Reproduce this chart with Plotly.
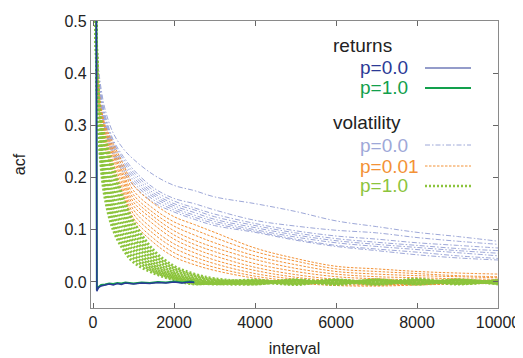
import plotly.graph_objects as go

# ---------------- data ----------------
lags = [50, 100, 150, 200, 300, 500, 750, 1000, 1500, 2000, 2500, 3000,
        4000, 5000, 6000, 7000, 8000, 9000, 10000]

vol_p00 = [
    [0.60, 0.46, 0.40, 0.37, 0.33, 0.285, 0.255, 0.235, 0.205, 0.185, 0.175, 0.163, 0.150, 0.135, 0.117, 0.106, 0.095, 0.087, 0.078],
    [0.60, 0.45, 0.39, 0.36, 0.32, 0.272, 0.240, 0.215, 0.180, 0.160, 0.150, 0.138, 0.118, 0.107, 0.099, 0.094, 0.085, 0.078, 0.072],
    [0.60, 0.44, 0.385, 0.355, 0.315, 0.268, 0.235, 0.210, 0.175, 0.155, 0.142, 0.130, 0.112, 0.098, 0.088, 0.082, 0.075, 0.070, 0.065],
    [0.60, 0.44, 0.38, 0.35, 0.31, 0.262, 0.230, 0.205, 0.170, 0.150, 0.138, 0.125, 0.108, 0.094, 0.083, 0.076, 0.070, 0.064, 0.060],
    [0.60, 0.43, 0.375, 0.345, 0.305, 0.258, 0.225, 0.200, 0.166, 0.146, 0.133, 0.120, 0.104, 0.090, 0.079, 0.072, 0.066, 0.060, 0.055],
    [0.60, 0.43, 0.37, 0.34, 0.30, 0.252, 0.220, 0.195, 0.162, 0.142, 0.128, 0.116, 0.100, 0.086, 0.075, 0.068, 0.062, 0.056, 0.050],
    [0.60, 0.42, 0.365, 0.335, 0.295, 0.248, 0.215, 0.190, 0.157, 0.138, 0.124, 0.112, 0.097, 0.082, 0.070, 0.063, 0.057, 0.050, 0.045],
    [0.60, 0.42, 0.36, 0.33, 0.29, 0.242, 0.210, 0.185, 0.152, 0.134, 0.120, 0.108, 0.095, 0.080, 0.068, 0.060, 0.052, 0.046, 0.042],
]

vol_p001 = [
    [0.60, 0.45, 0.37, 0.335, 0.30, 0.265, 0.225, 0.185, 0.150, 0.125, 0.110, 0.095, 0.065, 0.045, 0.030, 0.025, 0.020, 0.017, 0.015],
    [0.60, 0.44, 0.36, 0.33, 0.295, 0.258, 0.217, 0.175, 0.140, 0.115, 0.100, 0.085, 0.058, 0.040, 0.025, 0.020, 0.016, 0.012, 0.010],
    [0.60, 0.43, 0.355, 0.325, 0.29, 0.252, 0.208, 0.167, 0.132, 0.107, 0.090, 0.075, 0.050, 0.033, 0.020, 0.015, 0.012, 0.010, 0.008],
    [0.60, 0.43, 0.35, 0.32, 0.285, 0.246, 0.202, 0.160, 0.125, 0.098, 0.080, 0.066, 0.043, 0.026, 0.015, 0.010, 0.008, 0.006, 0.005],
    [0.60, 0.42, 0.345, 0.315, 0.28, 0.240, 0.196, 0.153, 0.118, 0.090, 0.072, 0.058, 0.035, 0.020, 0.010, 0.006, 0.004, 0.003, 0.003],
    [0.60, 0.42, 0.34, 0.31, 0.275, 0.234, 0.190, 0.146, 0.110, 0.082, 0.064, 0.050, 0.028, 0.014, 0.005, 0.002, 0.000, 0.001, 0.002],
    [0.60, 0.41, 0.335, 0.305, 0.27, 0.227, 0.183, 0.138, 0.100, 0.073, 0.056, 0.042, 0.022, 0.009, 0.002, -0.002, -0.003, -0.001, 0.000],
    [0.60, 0.41, 0.33, 0.30, 0.265, 0.220, 0.176, 0.130, 0.092, 0.065, 0.048, 0.035, 0.016, 0.005, -0.002, -0.005, -0.004, -0.002, -0.001],
    [0.60, 0.40, 0.325, 0.295, 0.26, 0.213, 0.170, 0.122, 0.083, 0.056, 0.040, 0.028, 0.011, 0.001, -0.005, -0.006, -0.005, -0.003, -0.002],
    [0.60, 0.40, 0.32, 0.29, 0.255, 0.207, 0.163, 0.115, 0.075, 0.048, 0.033, 0.022, 0.007, -0.002, -0.007, -0.008, -0.006, -0.004, -0.003],
]

vol_p10 = [
    [0.60, 0.42, 0.34, 0.31, 0.275, 0.22, 0.16, 0.115, 0.060, 0.030, 0.015, 0.006, 0.000, -0.004, 0.003, -0.002, 0.004, -0.002, 0.001],
    [0.60, 0.415, 0.335, 0.30, 0.265, 0.205, 0.148, 0.105, 0.053, 0.026, 0.012, 0.004, -0.002, 0.002, -0.004, 0.003, -0.002, 0.003, -0.002],
    [0.60, 0.41, 0.33, 0.29, 0.255, 0.19, 0.137, 0.095, 0.047, 0.022, 0.009, 0.002, 0.003, -0.003, 0.002, -0.004, 0.002, -0.003, 0.002],
    [0.60, 0.405, 0.32, 0.28, 0.24, 0.175, 0.125, 0.086, 0.041, 0.018, 0.006, 0.000, -0.003, 0.003, -0.002, 0.002, -0.004, 0.002, -0.002],
    [0.60, 0.40, 0.315, 0.27, 0.228, 0.16, 0.113, 0.077, 0.036, 0.015, 0.004, -0.002, 0.002, -0.002, 0.004, -0.003, 0.003, -0.002, 0.003],
    [0.60, 0.395, 0.31, 0.26, 0.215, 0.147, 0.102, 0.068, 0.031, 0.012, 0.002, -0.003, -0.004, 0.002, -0.003, 0.004, -0.002, 0.004, -0.003],
    [0.60, 0.39, 0.30, 0.25, 0.20, 0.134, 0.090, 0.060, 0.027, 0.010, 0.000, -0.004, 0.002, -0.005, 0.003, -0.002, 0.005, -0.003, 0.002],
    [0.60, 0.385, 0.295, 0.24, 0.188, 0.122, 0.080, 0.052, 0.023, 0.008, -0.002, -0.003, -0.002, 0.003, -0.005, 0.003, -0.003, 0.002, -0.004],
    [0.60, 0.38, 0.29, 0.23, 0.175, 0.11, 0.070, 0.045, 0.020, 0.006, -0.003, -0.002, 0.003, -0.003, 0.002, -0.005, 0.002, -0.004, 0.003],
    [0.60, 0.375, 0.28, 0.22, 0.16, 0.10, 0.062, 0.038, 0.017, 0.004, -0.004, 0.000, -0.004, 0.004, -0.002, 0.003, -0.004, 0.003, -0.003],
]

ret_lags = [80, 95, 120, 150, 200, 300, 400, 500, 600, 700, 800, 1000, 1200,
            1400, 1600, 1800, 2000, 2200, 2400, 2500]
ret_p00 = [0.60, -0.018, -0.013, -0.010, -0.008, -0.006, -0.004, -0.006, -0.003, -0.005,
           -0.002, -0.004, -0.002, -0.003, -0.001, -0.002, 0.000, -0.002, 0.000, -0.001]
ret_p10 = [0.60, -0.016, -0.011, -0.009, -0.006, -0.005, -0.003, -0.004, -0.002, -0.003,
           -0.001, -0.003, -0.001, -0.002, 0.000, -0.001, 0.001, -0.001, 0.001, 0.000]

x_ticks = [0, 2000, 4000, 6000, 8000, 10000]
y_ticks = [0.0, 0.1, 0.2, 0.3, 0.4, 0.5]

# ---------------- styles ----------------
C_BLUE = "#2b3a96"
C_GREEN = "#12a04c"
C_LAV = "#9ea8d8"
C_ORANGE = "#f39236"
C_LGREEN = "#8cc43c"
FONT = "Liberation Sans, Arial, Helvetica, sans-serif"

fig = go.Figure()

for ys in vol_p00:
    fig.add_trace(go.Scatter(x=lags, y=ys, mode="lines", line_shape="spline",
                             line=dict(color=C_LAV, width=1, dash="5px,2px,1.5px,2px"),
                             showlegend=False, hoverinfo="skip"))
for ys in vol_p001:
    fig.add_trace(go.Scatter(x=lags, y=ys, mode="lines", line_shape="spline",
                             line=dict(color=C_ORANGE, width=1, dash="2.5px,1.5px"),
                             showlegend=False, hoverinfo="skip"))
for ys in vol_p10:
    fig.add_trace(go.Scatter(x=lags, y=ys, mode="lines", line_shape="spline",
                             line=dict(color=C_LGREEN, width=3, dash="2px,2px"),
                             showlegend=False, hoverinfo="skip"))

fig.add_trace(go.Scatter(x=ret_lags, y=ret_p10, mode="lines",
                         line=dict(color=C_GREEN, width=2), showlegend=False))
fig.add_trace(go.Scatter(x=ret_lags, y=ret_p00, mode="lines",
                         line=dict(color=C_BLUE, width=1.5), showlegend=False))

# ---------------- layout (page body has an 8px default margin) ----------------
OFF = 8
L, R, T, B = 91, 498, 21, 308          # plot area in screen pixels
W, H = 523 - OFF, 358 - OFF            # figure size
def px(xp):
    return (xp - L) / (R - L)
def py(yp):
    return (B - yp) / (B - T)

legend_rows = [
    ("returns", 332, 46, "#222222", None, None, None),
    ("p=0.0", 359, 68, C_BLUE, C_BLUE, 1.2, "solid"),
    ("p=1.0", 359, 88, C_GREEN, C_GREEN, 2, "solid"),
    ("volatility", 332, 123, "#222222", None, None, None),
    ("p=0.0", 359, 145, C_LAV, C_LAV, 1, "5px,2px,1.5px,2px"),
    ("p=0.01", 359, 166, C_ORANGE, C_ORANGE, 1, "2.5px,1.5px"),
    ("p=1.0", 359, 186, C_LGREEN, C_LGREEN, 2.5, "2px,2px"),
]
for text, x0, yc, tcol, lcol, lw, dash in legend_rows:
    fig.add_annotation(x=px(x0), y=py(yc), xref="paper", yref="paper", text=text,
                       showarrow=False, xanchor="left", yanchor="middle",
                       xshift=-1, font=dict(family=FONT, size=19, color=tcol))
    if lcol:
        fig.add_shape(type="line", xref="paper", yref="paper",
                      x0=px(425), x1=px(471), y0=py(yc), y1=py(yc),
                      line=dict(color=lcol, width=lw, dash=dash))

axis_common = dict(showline=True, linecolor="#8a8a8a", linewidth=1.2, mirror="ticks",
                   ticks="inside", ticklen=5, tickwidth=1.2, tickcolor="#666666",
                   showgrid=False, zeroline=False, automargin=False,
                   tickfont=dict(family=FONT, size=16, color="#222222"))

fig.update_layout(
    width=W, height=H,
    margin=dict(l=L - OFF, r=W - (R - OFF), t=T - OFF, b=H - (B - OFF)),
    paper_bgcolor="white", plot_bgcolor="white",
    font=dict(family=FONT, size=16, color="#222222"),
    xaxis=dict(range=[-50, 10000], tickvals=x_ticks, ticktext=[str(v) for v in x_ticks],
               title=dict(text="interval", standoff=12, font=dict(size=16)),
               **axis_common),
    yaxis=dict(range=[-0.05, 0.5], tickvals=y_ticks, ticktext=[f"{v:.1f}" for v in y_ticks],
               title=dict(text="acf", standoff=34, font=dict(size=16)),
               **axis_common),
)

fig.write_html("out.html")
